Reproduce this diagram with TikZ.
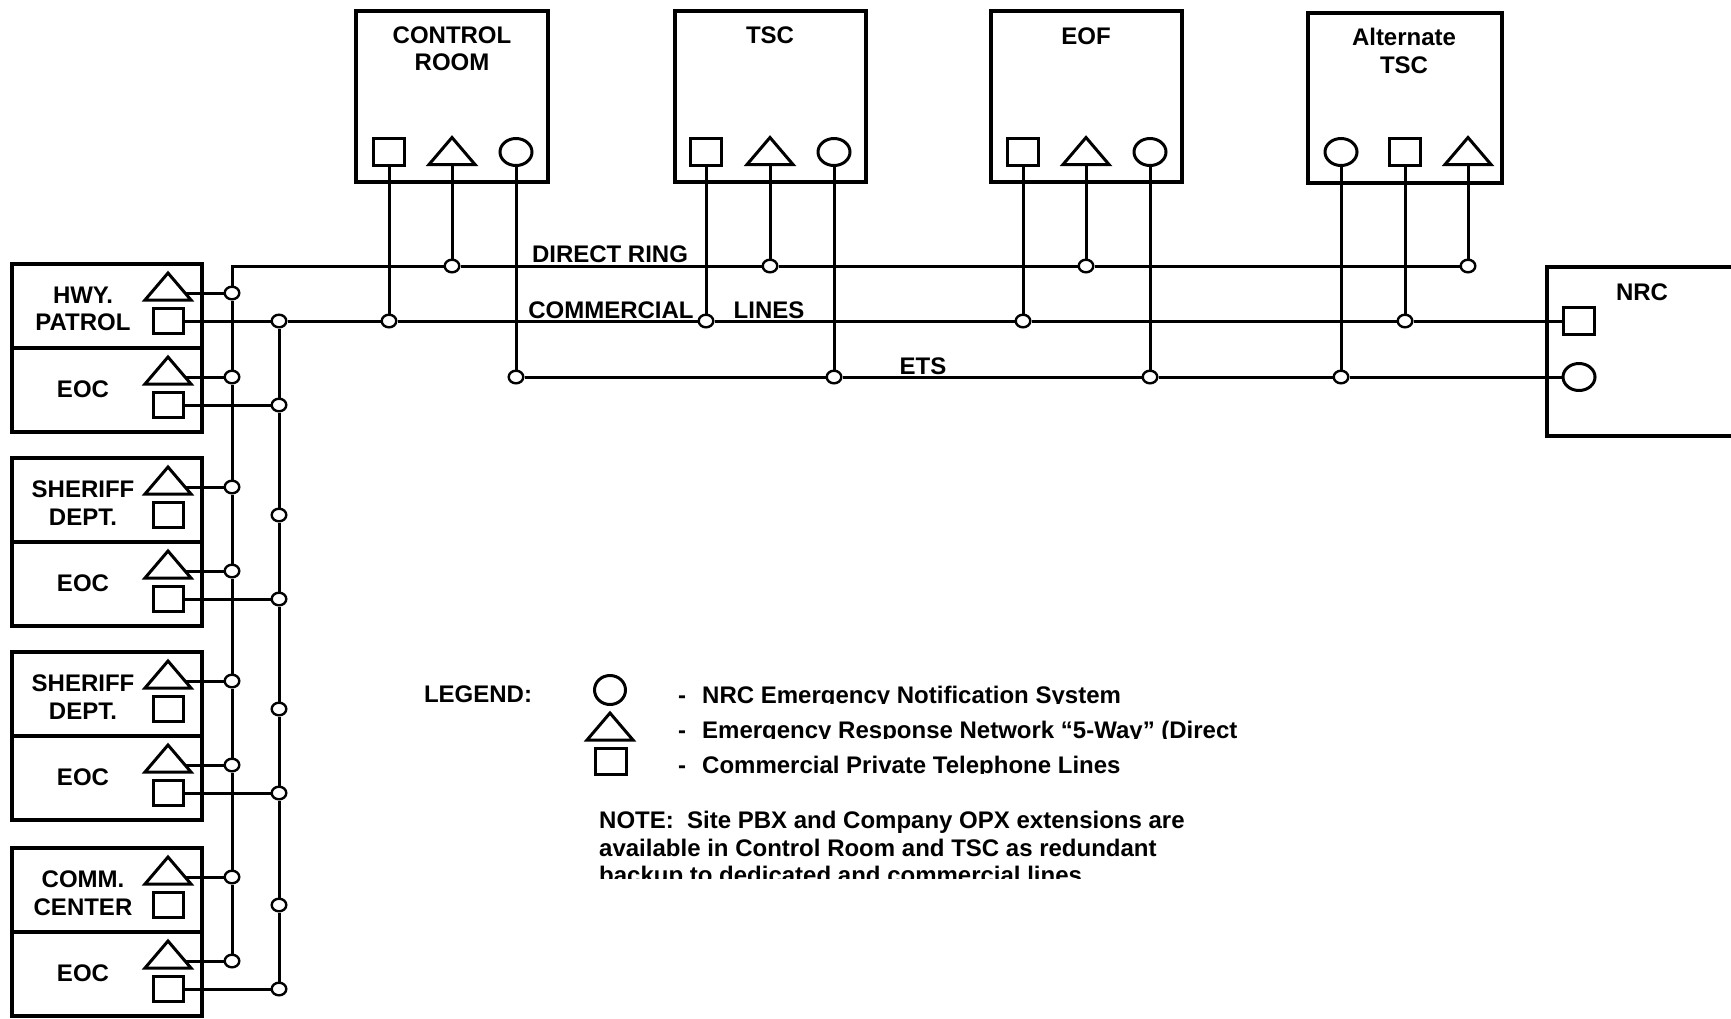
\documentclass[tikz,border=0pt]{standalone}
\usepackage{fontspec}
\setmainfont{Liberation Sans}
\usetikzlibrary{shapes.geometric,positioning}
\tikzset{
  wire/.style={line width=3pt},
  frame/.style={draw,line width=3.5pt},
  symline/.style={line width=3pt},
  sqsym/.style={draw,symline,rectangle,inner sep=0pt,minimum width=31pt,minimum height=27pt},
  ovsym/.style={draw,symline,ellipse,inner sep=0pt,minimum width=32pt,minimum height=27pt},
  jct/.style={draw,line width=2.4pt,ellipse,fill=white,inner sep=0pt,minimum width=14.6pt,minimum height=12.6pt},
  lbl/.style={font=\bfseries\fontsize{24}{27.5}\selectfont,align=center,inner sep=0pt},
}
% triangle symbol, apex at (#1,#2)
\newcommand\trisym[2]{\draw[symline] (#1,#2) -- ++(23,27) -- ++(-46,0) -- cycle;}

\begin{document}
\begin{tikzpicture}[x=1pt,y=-1pt]
  \useasboundingbox (0,0) rectangle (1731,1018);
  \def\ring{266} \def\comm{321} \def\ets{377}
  \def\va{232} \def\vb{279}

  % sites on top
  \draw[frame] (356,11) rectangle (548,182);
  \draw[frame] (675,11) rectangle (866,182);
  \draw[frame] (991,11) rectangle (1182,182);
  \draw[frame] (1308,13) rectangle (1502,183);
  \node[lbl] (crTxt) at (452,48.5) {CONTROL\\ROOM};
  \node[lbl] (tscTxt) at (770,35) {TSC};
  \node[lbl] (eofTxt) at (1086,36.5) {EOF};
  \node[lbl] (altTxt) at (1404,51) {Alternate\\TSC};
  \foreach \nm/\xs/\xt/\xo in {cr/389/452/516, tsc/706/770/834, eof/1023/1086/1150, alt/1405/1468/1341} {
    \node[sqsym] (\nm-sq) at (\xs,152) {};
    \trisym{\xt}{137.5}
    \coordinate (\nm-tb) at (\xt,164.5);
    \node[ovsym] (\nm-ov) at (\xo,152) {};
    \node[jct] (\nm-sj) at (\xs,\comm) {};
    \node[jct] (\nm-tj) at (\xt,\ring) {};
    \node[jct] (\nm-oj) at (\xo,\ets) {};
    \draw[wire] (\nm-sq) -- (\nm-sj);
    \draw[wire] (\nm-tb) -- (\nm-tj);
    \draw[wire] (\nm-ov) -- (\nm-oj);
  }

  % NRC
  \draw[frame] (1761,267) -- (1547,267) -- (1547,436) -- (1761,436);
  \node[lbl] (nrcTxt) at (1642,292.5) {NRC};
  \node[sqsym] (nrcSq) at (1579,\comm) {};
  \node[ovsym] (nrcOv) at (1579,\ets) {};

  % local agencies on the left
  \foreach \cy in {264,458,652,848} {
    \draw[frame] (12,\cy) rectangle (202,\cy+168);
    \draw[frame] (12,\cy+84) -- (202,\cy+84);
  }
  \node[lbl] (hwyTxt) at (83,309) {HWY.\\PATROL};
  \node[lbl] (shATxt) at (83,503) {SHERIFF\\DEPT.};
  \node[lbl] (shBTxt) at (83,697) {SHERIFF\\DEPT.};
  \node[lbl] (comTxt) at (83,893) {COMM.\\CENTER};
  \foreach \cy [count=\i] in {348,542,736,932}
    \node[lbl] (eoc\i) at (83,\cy+41.5) {EOC};
  \foreach \cy [count=\i] in {264,348,458,542,652,736,848,932} {
    \trisym{168}{\cy+9}
    \coordinate (ta\i) at (185,\cy+29);
    \node[sqsym,minimum width=30pt,minimum height=25pt] (sq\i) at (168.5,\cy+57) {};
    \node[jct] (ja\i) at (\va,\cy+29) {};
    \node[jct] (jb\i) at (\vb,\cy+57) {};
    \draw[wire] (ta\i) -- (ja\i);
  }
  \foreach \i in {2,4,6,8}
    \draw[wire] (sq\i) -- (jb\i);

  % trunk lines
  \coordinate (ringEnd) at (\va,\ring);
  \draw[wire] (alt-tj) -- (eof-tj) -- (tsc-tj) -- (cr-tj) -- (ringEnd) -- (ja1);
  \draw[wire] (sq1) -- (jb1) -- (cr-sj) -- (tsc-sj) -- (eof-sj) -- (alt-sj) -- (nrcSq);
  \draw[wire] (cr-oj) -- (tsc-oj) -- (eof-oj) -- (alt-oj) -- (nrcOv);
  \foreach \i [remember=\i as \j (initially 1)] in {2,...,8} {
    \draw[wire] (ja\j) -- (ja\i);
    \draw[wire] (jb\j) -- (jb\i);
  }
  \node[lbl,anchor=base] (ringTxt) at (610,262) {DIRECT RING};
  \node[lbl,anchor=base] (commTxt) at (611,318) {COMMERCIAL};
  \node[lbl,anchor=base] (linesTxt) at (769,318) {LINES};
  \node[lbl,anchor=base] (etsTxt) at (923,374) {ETS};

  % legend
  \node[lbl,anchor=base] (legTxt) at (478,702) {LEGEND:};
  \node[ovsym,minimum width=31pt,minimum height=29pt] (legOv) at (610,690) {};
  \trisym{610}{713}
  \node[sqsym,minimum height=26pt] (legSq) at (611,761.5) {};
  \foreach \txt [count=\i, evaluate=\i as \yb using 703+35*(\i-1)] in
      {{NRC Emergency Notification System},
       {Emergency Response Network “5-Way” (Direct},
       {Commercial Private Telephone Lines}} {
    \begin{scope}
      \clip (670,\yb-30) rectangle (1300,\yb+0.5);
      \node[lbl,anchor=base west] (leg\i) at (678,\yb) {-\hspace{16pt}\txt};
    \end{scope}
  }
  \node[lbl,anchor=base west] (note1) at (599,828) {NOTE:\ \ Site PBX and Company OPX extensions are};
  \node[lbl,anchor=base west] (note2) at (599,856) {available in Control Room and TSC as redundant};
  \begin{scope}
    \clip (590,858) rectangle (1300,878);
    \node[lbl,anchor=base west] (note3) at (599,883.5) {backup to dedicated and commercial lines};
  \end{scope}
\end{tikzpicture}
\end{document}
